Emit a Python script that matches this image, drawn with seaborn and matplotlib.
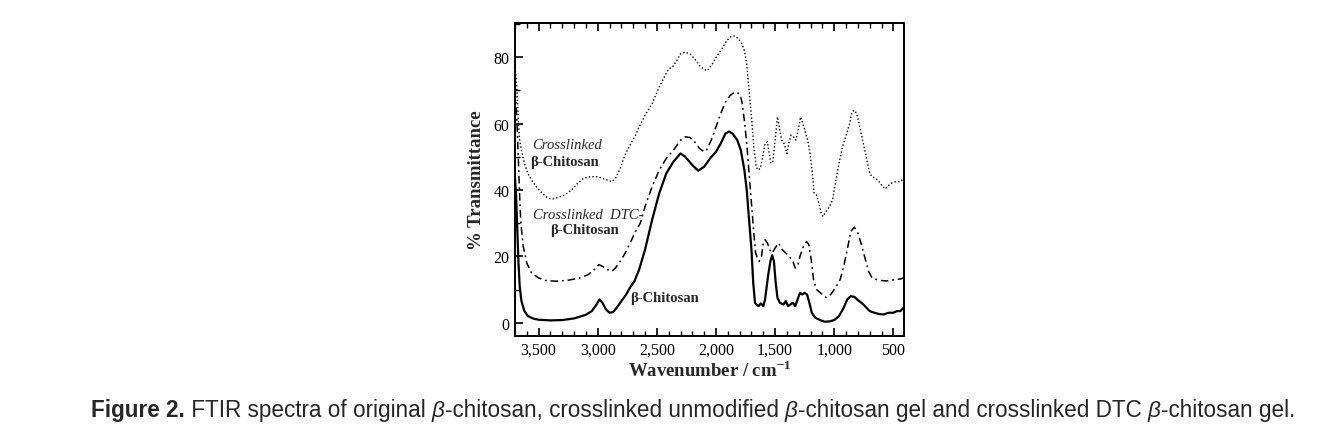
import numpy as np
import pandas as pd
import matplotlib
matplotlib.use("Agg")
import matplotlib.pyplot as plt
import seaborn as sns
from matplotlib.ticker import MultipleLocator, FuncFormatter

# ---------------- data ----------------
wn_chitosan = [3700, 3690, 3680, 3670, 3660, 3645, 3620, 3590, 3550, 3500, 3400, 3300, 3200, 3100,
               3050, 3010, 2985, 2960, 2930, 2900, 2870, 2840, 2800, 2760, 2720, 2690, 2650, 2600,
               2540, 2480, 2420, 2360, 2300, 2260, 2200, 2150, 2100, 2050, 2000, 1960, 1920, 1890,
               1860, 1820, 1790, 1760, 1740, 1720, 1700, 1685, 1670, 1660, 1640, 1620, 1600, 1585,
               1560, 1540, 1525, 1510, 1495, 1480, 1460, 1430, 1410, 1390, 1370, 1350, 1330, 1310,
               1290, 1270, 1250, 1230, 1210, 1190, 1160, 1120, 1080, 1040, 1000, 960, 920, 890, 860,
               830, 800, 770, 740, 700, 660, 620, 580, 540, 500, 470, 440, 415]
t_chitosan = [44, 38, 28, 18, 11, 6.5, 3.5, 2, 1.3, 0.9, 0.7, 0.8, 1.3, 2.4,
              3.5, 5.5, 7, 6, 4, 3, 3.2, 4.5, 6.5, 8.5, 11, 12.5, 16, 22,
              31, 39, 45, 48.5, 51, 50, 47.5, 45.8, 47, 49.5, 51.5, 54, 57, 57.6,
              57, 55, 52, 46, 40, 31, 22, 12, 6, 5.5, 5, 5.8, 5, 7,
              14, 18.5, 20.3, 18.5, 12, 7.5, 6, 5.5, 6.5, 5, 5.5, 6, 5, 7,
              9, 8.5, 9, 8.5, 6, 3, 1.5, 0.8, 0.3, 0.4, 0.8, 2, 4.5, 7, 8,
              7.8, 6.8, 6, 5, 3.5, 3, 2.6, 2.5, 3, 3, 3.5, 3.5, 4.5]

wn_dtc = [3700, 3690, 3680, 3670, 3660, 3650, 3630, 3600, 3560, 3500, 3440, 3350, 3250, 3150,
          3080, 3030, 2990, 2960, 2920, 2880, 2850, 2800, 2760, 2720, 2680, 2640, 2600, 2540,
          2480, 2420, 2360, 2300, 2260, 2220, 2180, 2140, 2100, 2080, 2040, 2000, 1960, 1920,
          1880, 1840, 1800, 1780, 1760, 1740, 1720, 1700, 1680, 1665, 1650, 1635, 1615, 1600,
          1585, 1565, 1545, 1525, 1500, 1470, 1440, 1410, 1380, 1350, 1330, 1310, 1290, 1260,
          1235, 1215, 1195, 1175, 1150, 1110, 1070, 1030, 990, 950, 920, 890, 860, 830, 800,
          770, 740, 710, 680, 640, 600, 560, 520, 480, 440, 415]
t_dtc = [70, 66, 58, 48, 38, 30, 23, 18, 15, 13.5, 12.7, 12.5, 12.8, 13.5,
         14.5, 16, 17.5, 17, 16, 15.5, 16.5, 19, 21.5, 24.5, 27.5, 30, 35, 41,
         46, 49.5, 52, 55, 56, 55.8, 54.5, 52.5, 51.5, 52, 55, 59, 63, 66.5,
         68.5, 69.5, 69, 66.5, 61, 54, 45, 36, 27, 21, 19.5, 18.5, 20, 24,
         25, 24, 22, 21, 22.5, 24, 22, 21, 20, 18.5, 16.5, 17, 20, 23,
         24.5, 23.5, 19, 13, 10, 8.8, 7.6, 8.5, 10.5, 13, 17, 22, 27.5, 28.8, 27,
         23.5, 19.5, 15.5, 13.5, 13, 12.7, 12.6, 12.8, 13, 13.2, 13.5]

wn_xl = [3700, 3690, 3680, 3670, 3660, 3645, 3620, 3590, 3560, 3520, 3470, 3420, 3380, 3330,
         3280, 3220, 3170, 3120, 3060, 3000, 2960, 2920, 2880, 2850, 2810, 2770, 2720, 2680,
         2650, 2600, 2540, 2480, 2430, 2400, 2370, 2340, 2300, 2260, 2220, 2180, 2140, 2100,
         2070, 2030, 1990, 1950, 1910, 1870, 1840, 1810, 1780, 1760, 1740, 1720, 1700, 1680,
         1660, 1645, 1625, 1605, 1585, 1565, 1550, 1535, 1520, 1500, 1480, 1465, 1445, 1425,
         1400, 1385, 1365, 1345, 1325, 1305, 1285, 1265, 1245, 1225, 1205, 1185, 1170, 1150,
         1130, 1110, 1095, 1070, 1040, 1015, 990, 960, 930, 900, 870, 850, 830, 810, 790, 760,
         730, 700, 680, 650, 620, 590, 570, 550, 520, 480, 440, 415]
t_xl = [77, 74, 68, 60, 55, 52, 48, 45, 43, 41, 39, 37.5, 37.3, 37.8,
        38.5, 40, 42, 43.5, 44, 44, 43.5, 43, 42.5, 43.5, 46.5, 50.5, 54, 56.5,
        59, 62.5, 66, 71, 74.5, 76.5, 77, 78.5, 81, 81.5, 81, 79.5, 77.5, 76.3,
        76, 78, 80.5, 82.5, 85, 86.3, 86.4, 85.5, 84, 82, 78, 70, 62, 53,
        47, 46, 46.5, 50, 54, 54.5, 51, 48, 48.5, 55, 62, 59, 55, 54,
        51, 54, 56.5, 56, 55, 58, 62, 60, 57.5, 55, 51, 45, 39, 38.5,
        36, 33, 32, 33.5, 35, 37, 42, 48, 53, 56.5, 60, 63.5, 64, 63, 60, 55,
        50, 45, 44, 43.5, 42.5, 41, 40.3, 41, 42, 42.5, 42.5, 43.5]

x_ticks = [3500, 3000, 2500, 2000, 1500, 1000, 500]
y_ticks = [0, 20, 40, 60, 80]

# ---------------- plot ----------------
sns.set_style("white")
plt.rcParams["font.family"] = ["Liberation Serif", "DejaVu Serif"]

fig = plt.figure(figsize=(13.18, 4.35), dpi=100)
ax = fig.add_axes([0.3907, 0.2253, 0.2952, 0.7195])

df_s = pd.DataFrame({"wn": wn_chitosan, "T": t_chitosan})
df_d = pd.DataFrame({"wn": wn_dtc, "T": t_dtc})
df_x = pd.DataFrame({"wn": wn_xl, "T": t_xl})

sns.lineplot(data=df_x, x="wn", y="T", ax=ax, sort=False, color="black",
             linewidth=1.0, linestyle=(0, (1, 1.6)))
sns.lineplot(data=df_d, x="wn", y="T", ax=ax, sort=False, color="black",
             linewidth=1.1, linestyle=(0, (5, 2.5, 1.2, 2.5)))
sns.lineplot(data=df_s, x="wn", y="T", ax=ax, sort=False, color="black",
             linewidth=1.6, linestyle="-")

ax.set_xlim(3700, 410)
ax.set_ylim(-4, 90.3)
ax.set_xticks(x_ticks)
ax.set_yticks(y_ticks)
ax.xaxis.set_minor_locator(MultipleLocator(100))
ax.yaxis.set_minor_locator(MultipleLocator(10))
ax.xaxis.set_major_formatter(FuncFormatter(lambda v, p: f"{int(v):,}"))
ax.tick_params(which="both", direction="in", top=True, right=False, bottom=True, left=True,
               labelsize=11.5, colors="black", pad=4)
ax.tick_params(which="major", length=6, width=1.2)
ax.tick_params(which="minor", length=3.5, width=1.0)
for sp in ax.spines.values():
    sp.set_linewidth(1.4)
    sp.set_color("black")

ax.set_xlabel("Wavenumber / cm$^{\\mathregular{-1}}$", fontsize=13.5, fontweight="bold", labelpad=1)
ax.set_ylabel("% Transmittance", fontsize=13.5, fontweight="bold", labelpad=6)

# in-plot labels
ax.text(3551, 53.8, "Crosslinked", fontsize=10.5, style="italic", va="center", ha="left")
ax.text(3568, 48.5, "β-Chitosan", fontsize=10.5, fontweight="bold", va="center", ha="left")
ax.text(3551, 32.7, "Crosslinked  DTC-", fontsize=10.5, style="italic", va="center", ha="left")
ax.text(3400, 28.0, "β-Chitosan", fontsize=10.5, fontweight="bold", va="center", ha="left")
ax.text(2722, 7.6, "β-Chitosan", fontsize=10.5, fontweight="bold", va="center", ha="left")

# caption composed of pieces
pieces = [("Figure 2.", dict(fontweight="bold")),
          (" FTIR spectra of original ", {}),
          ("β", dict(style="italic")),
          ("-chitosan, crosslinked unmodified ", {}),
          ("β", dict(style="italic")),
          ("-chitosan gel and crosslinked DTC ", {}),
          ("β", dict(style="italic")),
          ("-chitosan gel.", {})]

target_left, target_right, cap_y = 91, 1290, 435 - 411


def place(fs):
    renderer = fig.canvas.get_renderer()
    x = target_left
    objs = []
    for s, kw in pieces:
        t = fig.text(x / 1318, cap_y / 435, s, fontsize=fs, family=["Liberation Sans", "DejaVu Sans"],
                     va="center", ha="left", **kw)
        bb = t.get_window_extent(renderer)
        x = bb.x1
        objs.append(t)
    return objs, x


fs = 13
objs, xend = place(fs)
width = xend - target_left
for o in objs:
    o.remove()
fs = fs * (target_right - target_left) / width
place(fs)

fig.savefig("out.png", dpi=100)
